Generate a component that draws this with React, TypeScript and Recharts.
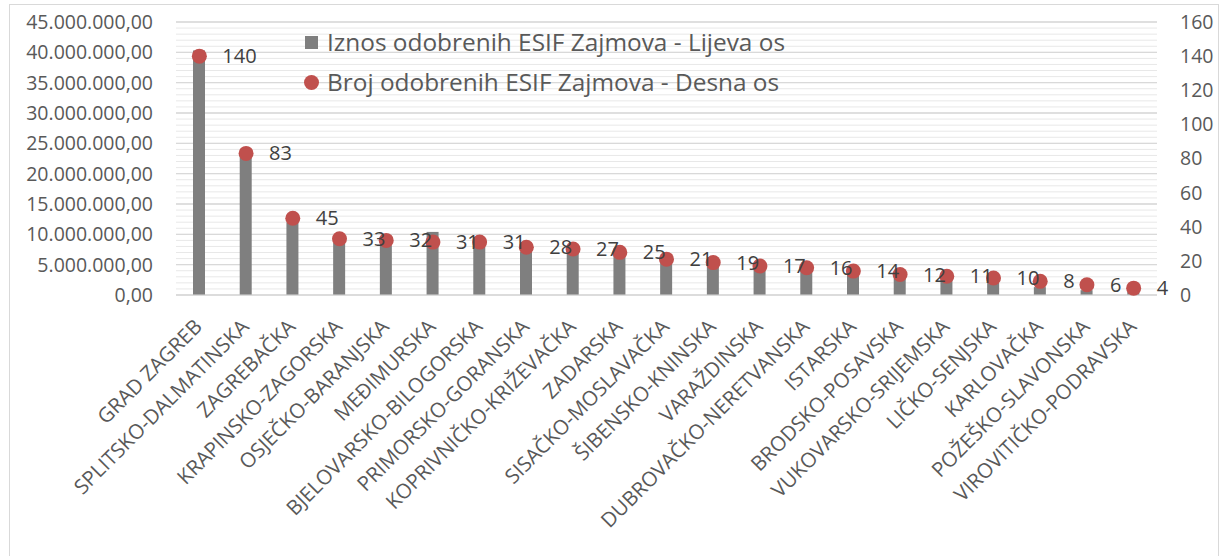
import React from 'react';
import {
  ComposedChart,
  Bar,
  Line,
  XAxis,
  YAxis,
  CartesianGrid,
  Legend,
  LabelList,
} from 'recharts';

const counties = [
  'GRAD ZAGREB',
  'SPLITSKO-DALMATINSKA',
  'ZAGREBAČKA',
  'KRAPINSKO-ZAGORSKA',
  'OSJEČKO-BARANJSKA',
  'MEĐIMURSKA',
  'BJELOVARSKO-BILOGORSKA',
  'PRIMORSKO-GORANSKA',
  'KOPRIVNIČKO-KRIŽEVAČKA',
  'ZADARSKA',
  'SISAČKO-MOSLAVAČKA',
  'ŠIBENSKO-KNINSKA',
  'VARAŽDINSKA',
  'DUBROVAČKO-NERETVANSKA',
  'ISTARSKA',
  'BRODSKO-POSAVSKA',
  'VUKOVARSKO-SRIJEMSKA',
  'LIČKO-SENJSKA',
  'KARLOVAČKA',
  'POŽEŠKO-SLAVONSKA',
  'VIROVITIČKO-PODRAVSKA',
];

// Iznos odobrenih ESIF zajmova (lijeva os)
const approvedAmounts = [
  40300000, 23000000, 12000000, 8600000, 8200000, 10400000, 8000000, 7200000,
  7300000, 6900000, 5400000, 4900000, 4400000, 4100000, 3600000, 3000000,
  2500000, 2000000, 1300000, 800000, 500000,
];

// Broj odobrenih ESIF zajmova (desna os)
const approvedCounts = [
  140, 83, 45, 33, 32, 31, 31, 28, 27, 25, 21, 19, 17, 16, 14, 12, 11, 10, 8, 6, 4,
];

const leftTicks = [
  0, 5000000, 10000000, 15000000, 20000000, 25000000, 30000000, 35000000,
  40000000, 45000000,
];
const rightTicks = [0, 20, 40, 60, 80, 100, 120, 140, 160];

// minor gridlines every 1.000.000
const minorTicks: number[] = [];
for (let v = 0; v <= 45000000; v += 1000000) minorTicks.push(v);

const data = counties.map((county, i) => ({
  county,
  amount: approvedAmounts[i],
  count: approvedCounts[i],
}));

const FONT = '"Open Sans", sans-serif';
const BAR_COLOR = '#7f7f7f';
const DOT_COLOR = '#c0504d';
const TEXT_COLOR = '#595959';

const formatAmount = (v: number) => {
  const whole = Math.round(v)
    .toString()
    .replace(/\B(?=(\d{3})+(?!\d))/g, '.');
  return `${whole},00`;
};

const CountyTick = (props: any) => {
  const { x, y, payload } = props;
  return (
    <g transform={`translate(${x + 4},${y + 25}) rotate(-45)`}>
      <text
        x={0}
        y={0}
        textAnchor="end"
        fill={TEXT_COLOR}
        fontSize={20.5}
        fontFamily={FONT}
      >
        {payload.value}
      </text>
    </g>
  );
};

const CountLabel = (props: any) => {
  const x = props.x ?? props.viewBox?.x;
  const y = props.y ?? props.viewBox?.y;
  return (
    <text
      x={x + 23}
      y={y}
      dy="0.35em"
      fill="#404040"
      fontSize={20}
      fontFamily={FONT}
    >
      {props.value}
    </text>
  );
};

const LegendBox = () => (
  <div
    style={{
      fontFamily: FONT,
      fontSize: 24.4,
      color: TEXT_COLOR,
      lineHeight: '40px',
      whiteSpace: 'nowrap',
    }}
  >
    <div style={{ display: 'flex', alignItems: 'center', height: 40 }}>
      <span
        style={{
          display: 'inline-block',
          width: 13,
          height: 13,
          background: BAR_COLOR,
          marginRight: 9,
        }}
      />
      Iznos odobrenih ESIF Zajmova - Lijeva os
    </div>
    <div style={{ display: 'flex', alignItems: 'center', height: 40 }}>
      <span
        style={{
          display: 'inline-block',
          width: 15,
          height: 15,
          borderRadius: '50%',
          background: DOT_COLOR,
          marginLeft: -1,
          marginRight: 8,
        }}
      />
      Broj odobrenih ESIF Zajmova - Desna os
    </div>
  </div>
);

export default function App() {
  return (
    <div
      style={{
        position: 'absolute',
        left: 0,
        top: 0,
        width: 1223,
        height: 556,
        overflow: 'hidden',
        background: '#fff',
      }}
    >
      <div
        style={{
          position: 'absolute',
          left: 9,
          top: 4,
          width: 1208,
          height: 700,
          border: '1px solid #d9d9d9',
        }}
      />
      <div style={{ position: 'absolute', left: 0, top: 0 }}>
        <ComposedChart
          width={1223}
          height={556}
          data={data}
          margin={{ top: 22, right: 0, bottom: 0, left: 10 }}
          barCategoryGap={0}
        >
          <CartesianGrid
            yAxisId="left"
            vertical={false}
            horizontalValues={minorTicks}
            stroke="#e8e8e8"
          />
          <CartesianGrid
            yAxisId="left"
            vertical={false}
            stroke="#d9d9d9"
            strokeWidth={1.3}
          />
          <XAxis
            dataKey="county"
            interval={0}
            height={261}
            tickLine={false}
            axisLine={{ stroke: '#d9d9d9' }}
            tick={<CountyTick />}
          />
          <YAxis
            yAxisId="left"
            width={166}
            domain={[0, 45000000]}
            ticks={leftTicks}
            interval={0}
            tickFormatter={formatAmount}
            axisLine={false}
            tickLine={false}
            tickSize={6}
            tickMargin={17}
            tick={{ fill: TEXT_COLOR, fontSize: 19.5, fontFamily: FONT }}
          />
          <YAxis
            yAxisId="right"
            orientation="right"
            width={66}
            domain={[0, 160]}
            ticks={rightTicks}
            axisLine={false}
            tickLine={false}
            tickSize={6}
            tickMargin={17}
            tick={{
              fill: TEXT_COLOR,
              fontSize: 19.5,
              fontFamily: FONT,
              textAnchor: 'start',
            }}
          />
          <Legend
            layout="horizontal"
            verticalAlign="middle"
            content={() => <LegendBox />}
            wrapperStyle={{ left: 305, top: 22, width: 540 }}
          />
          <Bar
            yAxisId="left"
            dataKey="amount"
            fill={BAR_COLOR}
            barSize={12}
            isAnimationActive={false}
          />
          <Line
            yAxisId="right"
            dataKey="count"
            stroke="none"
            dot={{ r: 7.5, fill: DOT_COLOR, stroke: 'none' }}
            activeDot={false}
            isAnimationActive={false}
          >
            <LabelList dataKey="count" content={<CountLabel />} />
          </Line>
        </ComposedChart>
      </div>
    </div>
  );
}
